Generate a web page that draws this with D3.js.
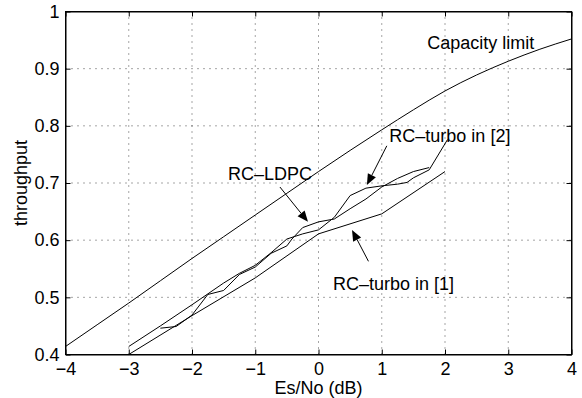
<!DOCTYPE html>
<html><head><meta charset="utf-8">
<script src="https://cdn.jsdelivr.net/npm/d3@7"></script>
<style>
html,body{margin:0;padding:0;background:#fff;}
text{font-family:"Liberation Sans",Arial,Helvetica,sans-serif;}
</style></head>
<body><svg id="c" width="582" height="398"></svg>
<script>
// ---- data ----
const xTicks = [-4,-3,-2,-1,0,1,2,3,4];
const yTicks = [0.4,0.5,0.6,0.7,0.8,0.9,1];
const yTickLabels = ["0.4","0.5","0.6","0.7","0.8","0.9","1"];
const xLabel = "Es/No (dB)";
const yLabel = "throughput";

const capX = [-4,-3.5,-3,-2.5,-2,-1.5,-1,-0.5,0,0.5,1,1.5,2,2.5,3,3.5,4];
const capY = [0.414,0.452,0.490,0.529,0.568,0.606,0.644,0.682,0.720,0.757,0.793,0.828,0.861,0.889,0.913,0.934,0.952];

const turbo1X = [-3,-2,-1,0,1,2];
const turbo1Y = [0.400,0.468,0.534,0.611,0.646,0.720];

const turbo2X = [-3,-2.5,-2,-1.5,-1.25,-1,-0.75,-0.5,-0.25,0,0.25,0.5,0.75,1.0,1.25,1.4,1.5,1.75,2.04];
const turbo2Y = [0.414,0.450,0.487,0.525,0.542,0.556,0.578,0.602,0.611,0.618,0.640,0.678,0.691,0.695,0.698,0.701,0.709,0.723,0.776];

const ldpcX = [-2.5,-2.25,-2.0,-1.75,-1.5,-1.25,-1.0,-0.75,-0.5,-0.42,-0.25,0,0.25,0.5,0.75,1.0,1.25,1.5,1.75];
const ldpcY = [0.446,0.449,0.469,0.505,0.512,0.540,0.553,0.577,0.590,0.602,0.622,0.632,0.637,0.655,0.672,0.693,0.708,0.720,0.727];

// annotations (data coordinates)
const labelTexts = ["Capacity limit","RC\u2013turbo in [2]","RC\u2013LDPC","RC\u2013turbo in [1]"];
const labelX = [1.72, 1.12, -1.43, 0.23];
const labelY = [0.935, 0.771, 0.706, 0.5125];
const arrowFromX = [1.08, -0.61, 0.79];
const arrowFromY = [0.765, 0.693, 0.563];
const arrowToX = [0.765, -0.166, 0.53];
const arrowToY = [0.6965, 0.632, 0.618];

// ---- drawing ----
const svg = d3.select("#c");
const x = d3.scaleLinear().domain([-4,4]).range([65.5,571.5]);
const y = d3.scaleLinear().domain([0.4,1]).range([354.5,11.5]);
const FS = 18;

// grid
const g = svg.append("g");
g.selectAll(".gx").data(xTicks.slice(1,-1)).enter().append("line")
  .attr("x1",d=>x(d)).attr("x2",d=>x(d)).attr("y1",y(0.4)).attr("y2",y(1))
  .attr("stroke","#000").attr("stroke-width",1).attr("stroke-dasharray","1,5").attr("opacity",0.7);
g.selectAll(".gy").data(yTicks.slice(1,-1)).enter().append("line")
  .attr("y1",d=>y(d)).attr("y2",d=>y(d)).attr("x1",x(-4)).attr("x2",x(4))
  .attr("stroke","#000").attr("stroke-width",1).attr("stroke-dasharray","1,5").attr("opacity",0.7);

// axes
const fmtX = d => d<0 ? "\u2212"+Math.abs(d) : String(d);
const ax = svg.append("g").attr("transform",`translate(0,${y(0.4)})`)
  .call(d3.axisBottom(x).tickValues(xTicks).tickFormat(fmtX).tickSizeInner(-5).tickSizeOuter(0).tickPadding(8));
const ay = svg.append("g").attr("transform",`translate(${x(-4)},0)`)
  .call(d3.axisLeft(y).tickValues(yTicks).tickFormat((d,i)=>yTickLabels[i]).tickSizeInner(-5).tickSizeOuter(0).tickPadding(6));
const at = svg.append("g").attr("transform",`translate(0,${y(1)})`)
  .call(d3.axisTop(x).tickValues(xTicks).tickFormat("").tickSizeInner(-5).tickSizeOuter(0));
const ar = svg.append("g").attr("transform",`translate(${x(4)},0)`)
  .call(d3.axisRight(y).tickValues(yTicks).tickFormat("").tickSizeInner(-5).tickSizeOuter(0));
[ax,ay,at,ar].forEach(a=>{
  a.selectAll("text").attr("font-size",FS).attr("fill","#000").style("font-family","'Liberation Sans',Arial,sans-serif");
  a.selectAll("line").attr("stroke","#000");
  a.select(".domain").attr("stroke","#000");
});

// box
svg.append("rect").attr("x",x(-4)).attr("y",y(1)).attr("width",x(4)-x(-4)).attr("height",y(0.4)-y(1))
  .attr("fill","none").attr("stroke","#000").attr("stroke-width",1);

// axis labels
svg.append("text").attr("x",(x(-4)+x(4))/2).attr("y",394).attr("text-anchor","middle")
  .attr("font-size",FS).text(xLabel);
svg.append("text").attr("transform",`translate(27,${(y(0.4)+y(1))/2}) rotate(-90)`).attr("text-anchor","middle")
  .attr("font-size",FS).text(yLabel);

// curves
const lineSmooth = d3.line().x(d=>x(d[0])).y(d=>y(d[1])).curve(d3.curveMonotoneX);
const line = d3.line().x(d=>x(d[0])).y(d=>y(d[1]));
svg.append("path").datum(capX.map((v,i)=>[v,capY[i]])).attr("d",lineSmooth)
  .attr("fill","none").attr("stroke","#000").attr("stroke-width",1);
const series = [[turbo1X,turbo1Y],[turbo2X,turbo2Y],[ldpcX,ldpcY]];
series.forEach(([xs,ys])=>{
  svg.append("path").datum(xs.map((v,i)=>[v,ys[i]])).attr("d",line)
    .attr("fill","none").attr("stroke","#000").attr("stroke-width",1);
});

// labels
labelTexts.forEach((t,i)=>{
  svg.append("text").attr("x",x(labelX[i])).attr("y",y(labelY[i])).attr("font-size",FS).text(t);
});

// arrows
arrowFromX.forEach((fx,i)=>{
  const x1=x(fx), y1=y(arrowFromY[i]), x2=x(arrowToX[i]), y2=y(arrowToY[i]);
  const ang=Math.atan2(y2-y1,x2-x1), L=11, W=4.5;
  const bx=x2-L*Math.cos(ang), by=y2-L*Math.sin(ang);
  svg.append("line").attr("x1",x1).attr("y1",y1).attr("x2",bx).attr("y2",by).attr("stroke","#000").attr("stroke-width",1);
  const p=[[x2,y2],[bx+W*Math.sin(ang),by-W*Math.cos(ang)],[bx-W*Math.sin(ang),by+W*Math.cos(ang)]];
  svg.append("path").attr("d","M"+p.map(q=>q.join(",")).join("L")+"Z").attr("fill","#000");
});
</script></body></html>
